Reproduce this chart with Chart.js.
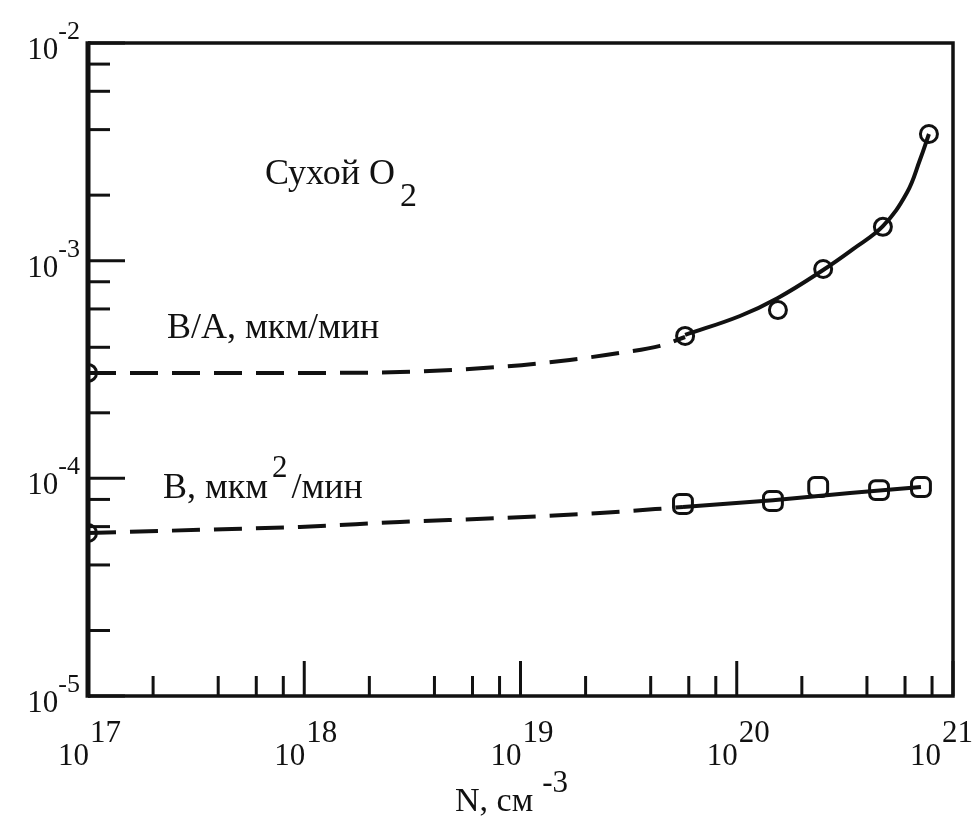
<!DOCTYPE html>
<html>
<head>
<meta charset="utf-8">
<script src="https://cdn.jsdelivr.net/npm/chart.js@4.4.1/dist/chart.umd.min.js"></script>
<style>
  html, body { margin: 0; padding: 0; background: #fff; }
  #wrap { width: 976px; height: 816px; }
</style>
</head>
<body>
<div id="wrap"><canvas id="chart" width="976" height="816"></canvas></div>
<script>
// Measured rate constants vs. dopant concentration N (cm^-3), dry O2
const nLinear = [5.77e19, 1.55e20, 2.51e20, 4.74e20, 7.74e20];
const linearRate = [4.51e-4, 5.93e-4, 9.16e-4, 1.43e-3, 3.82e-3];      // B/A, um/min
const nParabolic = [5.64e19, 1.47e20, 2.38e20, 4.55e20, 7.11e20];
const parabolicRate = [7.62e-5, 7.87e-5, 9.12e-5, 8.83e-5, 9.12e-5];   // B, um^2/min

// Intrinsic (low-doping) values on the left edge
const nIntrinsic = [1e17];
const linearIntrinsic = [3.05e-4];
const parabolicIntrinsic = [5.61e-5];

// Guide curve for B/A: dashed extrapolation, then solid through the data
const nLinearDashed = [1e17, 3.30e17, 9.55e17, 2.77e18, 8.04e18, 1.69e19, 2.89e19, 4.42e19, 5.77e19];
const linearDashed = [3.05e-4, 3.05e-4, 3.05e-4, 3.08e-4, 3.25e-4, 3.50e-4, 3.77e-4, 4.06e-4, 4.46e-4];
const nLinearSolid = [5.77e19, 1.035e20, 1.55e20, 2.51e20, 3.45e20, 4.74e20, 6.12e20, 7.03e20, 7.74e20];
const linearSolid = [4.56e-4, 5.57e-4, 6.74e-4, 9.06e-4, 1.13e-3, 1.44e-3, 2.05e-3, 2.90e-3, 3.82e-3];

// Guide curve for B
const nParabolicDashed = [1e17, 3.30e17, 9.55e17, 2.77e18, 8.04e18, 2.33e19, 5.64e19];
const parabolicDashed = [5.61e-5, 5.80e-5, 5.98e-5, 6.30e-5, 6.57e-5, 6.93e-5, 7.38e-5];
const nParabolicSolid = [5.64e19, 1.47e20, 3.34e20, 7.11e20];
const parabolicSolid = [7.38e-5, 7.94e-5, 8.56e-5, 9.12e-5];

// Axis decades and minor tick multipliers
const xDecades = [17, 18, 19, 20, 21];
const yDecades = [-5, -4, -3, -2];
const minorSteps = [2, 4, 6, 8];

const INK = '#111';
const SERIF = '"Liberation Serif", "DejaVu Serif", serif';
const CAPTION = 36;

function pts(xs, ys) { return xs.map((v, i) => ({ x: v, y: ys[i] })); }

function decadeTicks(decades) {
  const out = [];
  decades.forEach((d, i) => {
    out.push({ value: Math.pow(10, d), major: true });
    if (i < decades.length - 1) {
      minorSteps.forEach(m => out.push({ value: m * Math.pow(10, d), major: false }));
    }
  });
  return out.sort((a, b) => a.value - b.value);
}

function isDecade(v) {
  const l = Math.log10(v);
  return Math.abs(l - Math.round(l)) < 1e-6;
}

const lineBase = {
  showLine: true, borderColor: INK, borderWidth: 4, pointRadius: 0,
  fill: false, cubicInterpolationMode: 'monotone', clip: 0
};
const markerBase = {
  showLine: false, borderColor: INK, backgroundColor: '#fff',
  pointBorderWidth: 3, clip: 0
};

// Inward ticks, frame and the typeset labels (powers of ten, captions)
const decorations = {
  id: 'decorations',
  afterDraw(chart) {
    const { ctx, chartArea: a, scales: { x, y } } = chart;
    ctx.save();
    ctx.strokeStyle = INK;
    ctx.fillStyle = INK;
    ctx.lineCap = 'butt';

    // ticks
    ctx.lineWidth = 3;
    x.ticks.forEach(t => {
      const px = x.getPixelForValue(t.value);
      ctx.beginPath();
      ctx.moveTo(px, a.bottom);
      ctx.lineTo(px, a.bottom - (isDecade(t.value) ? 35 : 20));
      ctx.stroke();
    });
    y.ticks.forEach(t => {
      const py = y.getPixelForValue(t.value);
      ctx.beginPath();
      ctx.moveTo(a.left, py);
      ctx.lineTo(a.left + (isDecade(t.value) ? 37 : 22), py);
      ctx.stroke();
    });

    // frame
    ctx.lineWidth = 3.5;
    ctx.beginPath();
    ctx.moveTo(a.left, a.top);
    ctx.lineTo(a.right, a.top);
    ctx.lineTo(a.right, a.bottom);
    ctx.lineTo(a.left, a.bottom);
    ctx.stroke();
    ctx.lineWidth = 5;
    ctx.beginPath();
    ctx.moveTo(a.left, a.top - 1.75);
    ctx.lineTo(a.left, a.bottom + 1.75);
    ctx.stroke();

    ctx.textBaseline = 'alphabetic';
    ctx.textAlign = 'left';

    // x tick labels: 10 with superscript exponent
    x.ticks.forEach(t => {
      if (!isDecade(t.value)) return;
      const e = Math.round(Math.log10(t.value));
      const px = x.getPixelForValue(t.value);
      ctx.font = '31px ' + SERIF;
      const wBase = ctx.measureText('10').width;
      const wExp = ctx.measureText(String(e)).width;
      let right = px + 1;
      const overflow = right + 1 + wExp - 973;
      if (overflow > 0) right -= overflow;
      ctx.fillText('10', right - wBase, 765);
      ctx.fillText(String(e), right + 1, 742);
    });

    // y tick labels
    y.ticks.forEach(t => {
      if (!isDecade(t.value)) return;
      const e = Math.round(Math.log10(t.value));
      const py = y.getPixelForValue(t.value);
      const expText = '-' + String(Math.abs(e));
      ctx.font = '26px ' + SERIF;
      const wExp = ctx.measureText(expText).width;
      ctx.font = '31px ' + SERIF;
      const wBase = ctx.measureText('10').width;
      const right = a.left - 8;
      ctx.fillText('10', right - wExp - wBase, py + 16);
      ctx.font = '26px ' + SERIF;
      ctx.fillText(expText, right - wExp, py - 4);
    });

    // captions
    function run(parts, x0, base) {
      let cx = x0;
      parts.forEach(p => {
        ctx.font = p.size + 'px ' + SERIF;
        ctx.fillText(p.text, cx + (p.gap || 0), base + (p.dy || 0));
        cx += (p.gap || 0) + ctx.measureText(p.text).width;
      });
    }
    run([{ text: 'Сухой O', size: CAPTION }, { text: '2', size: 34, dy: 22, gap: 5 }], 265, 184);
    run([{ text: 'B/A, мкм/мин', size: CAPTION }], 167, 338);
    run([{ text: 'B, мкм', size: CAPTION }, { text: '2', size: 31, dy: -21, gap: 4 }, { text: '/мин', size: CAPTION, gap: 4 }], 163, 498);
    run([{ text: 'N, см', size: 34 }, { text: '-3', size: 31, dy: -19, gap: 9 }], 455, 811);

    ctx.restore();
  }
};

new Chart(document.getElementById('chart'), {
  type: 'scatter',
  data: {
    datasets: [
      { ...lineBase, label: 'B/A extrapolation', data: pts(nLinearDashed, linearDashed), borderDash: [28, 14] },
      { ...lineBase, label: 'B/A fit', data: pts(nLinearSolid, linearSolid), cubicInterpolationMode: 'default', tension: 0.4 },
      { ...lineBase, label: 'B extrapolation', data: pts(nParabolicDashed, parabolicDashed), borderDash: [28, 14] },
      { ...lineBase, label: 'B fit', data: pts(nParabolicSolid, parabolicSolid) },
      { ...markerBase, label: 'B/A', data: pts(nLinear, linearRate), pointStyle: 'circle', pointRadius: 8.5 },
      { ...markerBase, label: 'B', data: pts(nParabolic, parabolicRate), pointStyle: 'rectRounded', pointRadius: 11 },
      { ...markerBase, label: 'B/A intrinsic', data: pts(nIntrinsic, linearIntrinsic), pointStyle: 'circle', pointRadius: 8.5 },
      { ...markerBase, label: 'B intrinsic', data: pts(nIntrinsic, parabolicIntrinsic), pointStyle: 'circle', pointRadius: 8.5 }
    ]
  },
  options: {
    responsive: false,
    animation: false,
    devicePixelRatio: 1,
    layout: { padding: { left: 88, top: 43, right: 23, bottom: 120 } },
    plugins: { legend: { display: false }, tooltip: { enabled: false } },
    scales: {
      x: {
        type: 'logarithmic', min: 1e17, max: 1e21,
        grid: { display: false, drawTicks: false },
        border: { display: false },
        ticks: { display: false },
        afterBuildTicks: s => { s.ticks = decadeTicks(xDecades); }
      },
      y: {
        type: 'logarithmic', min: 1e-5, max: 1e-2,
        grid: { display: false, drawTicks: false },
        border: { display: false },
        ticks: { display: false },
        afterBuildTicks: s => { s.ticks = decadeTicks(yDecades); }
      }
    }
  },
  plugins: [decorations]
});
</script>
</body>
</html>
